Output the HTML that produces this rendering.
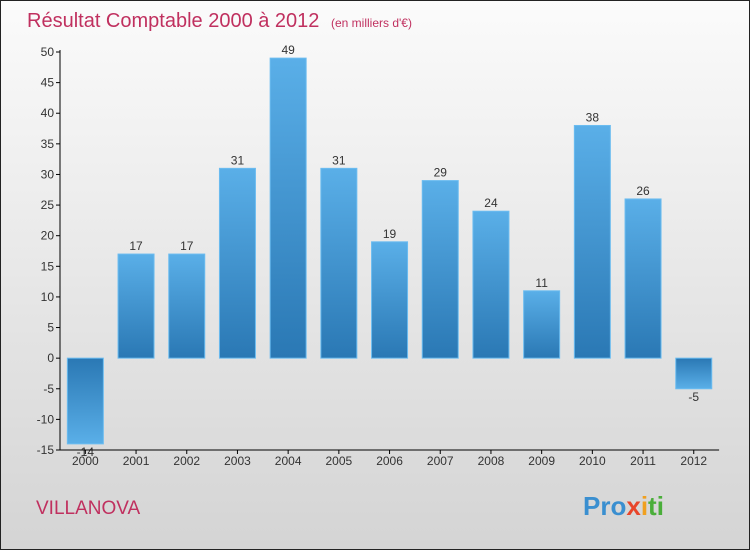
<!DOCTYPE html>
<html><head><meta charset="utf-8"><style>
body{margin:0;width:750px;height:550px;overflow:hidden;font-family:"Liberation Sans",sans-serif}
</style></head><body>
<svg width="750" height="550" xmlns="http://www.w3.org/2000/svg">
<defs>
<linearGradient id="bg" x1="0" y1="0" x2="0" y2="1"><stop offset="0" stop-color="#fbfbfb"/><stop offset="1" stop-color="#d4d4d4"/></linearGradient>
<linearGradient id="gp" x1="0" y1="0" x2="0" y2="1"><stop offset="0" stop-color="#5aafe8"/><stop offset="1" stop-color="#2a78b4"/></linearGradient>
<linearGradient id="gn" x1="0" y1="0" x2="0" y2="1"><stop offset="0" stop-color="#2a78b4"/><stop offset="1" stop-color="#5aafe8"/></linearGradient>
</defs>
<rect x="0.5" y="0.5" width="749" height="549" fill="url(#bg)" stroke="#222"/>
<text x="27" y="27" font-size="20" fill="#c0305f">Résultat Comptable 2000 à 2012 <tspan font-size="12" dx="6">(en milliers d'€)</tspan></text>
<text x="36" y="514" font-size="19" fill="#c0305f">VILLANOVA</text>
<text x="583" y="515" font-size="26" font-weight="bold"><tspan fill="#3a8fd0">Pro</tspan><tspan fill="#e8452a">x</tspan><tspan fill="#f0a020">i</tspan><tspan fill="#4aae3a">ti</tspan></text>
<g id="plot"></g>
</svg>
<script>
const years=["2000","2001","2002","2003","2004","2005","2006","2007","2008","2009","2010","2011","2012"];
const values=[-14,17,17,31,49,31,19,29,24,11,38,26,-5];
const yTicks=[-15,-10,-5,0,5,10,15,20,25,30,35,40,45,50];
const ns="http://www.w3.org/2000/svg";
const g=document.getElementById('plot');
const x0=60,step=50.7,yTop=52,yBot=450,vMin=-15,vMax=50;
const y=v=>yBot-(v-vMin)*(yBot-yTop)/(vMax-vMin);
const xc=i=>x0+step*(i+0.5);
function mk(t,a){const e=document.createElementNS(ns,t);for(const k in a)e.setAttribute(k,a[k]);g.appendChild(e);return e;}
yTicks.forEach(t=>{
 const l=mk('line',{x1:56,x2:60,y1:y(t),y2:y(t),stroke:'#000'});
 
 
 const tx=mk('text',{x:54,y:y(t)+4,'text-anchor':'end','font-size':12,fill:'#333'});
 tx.textContent=t;
 
 
});
values.forEach((v,i)=>{
 const top=y(Math.max(v,0)),bot=y(Math.min(v,0));
 const r=mk('rect',{x:xc(i)-18,y:top,width:36,height:bot-top,fill:v>=0?'url(#gp)':'url(#gn)',stroke:'#6bbcf0','stroke-width':1});
 
 
 const lb=mk('text',{x:xc(i),y:v>=0?top-4:bot+12,'text-anchor':'middle','font-size':12,fill:'#333'});
 lb.textContent=v;
 
 
 const tk=mk('line',{x1:xc(i),x2:xc(i),y1:yBot,y2:yBot+4,stroke:'#000'});
 
 
 const xl=mk('text',{x:xc(i),y:yBot+15,'text-anchor':'middle','font-size':12,fill:'#333'});
 xl.textContent=years[i];
 
 
});
const ya=mk('line',{x1:x0,x2:x0,y1:yTop-2,y2:yBot,stroke:'#000'});


const xa=mk('line',{x1:x0,x2:x0+step*13,y1:yBot,y2:yBot,stroke:'#000'});


</script>
</body></html>
